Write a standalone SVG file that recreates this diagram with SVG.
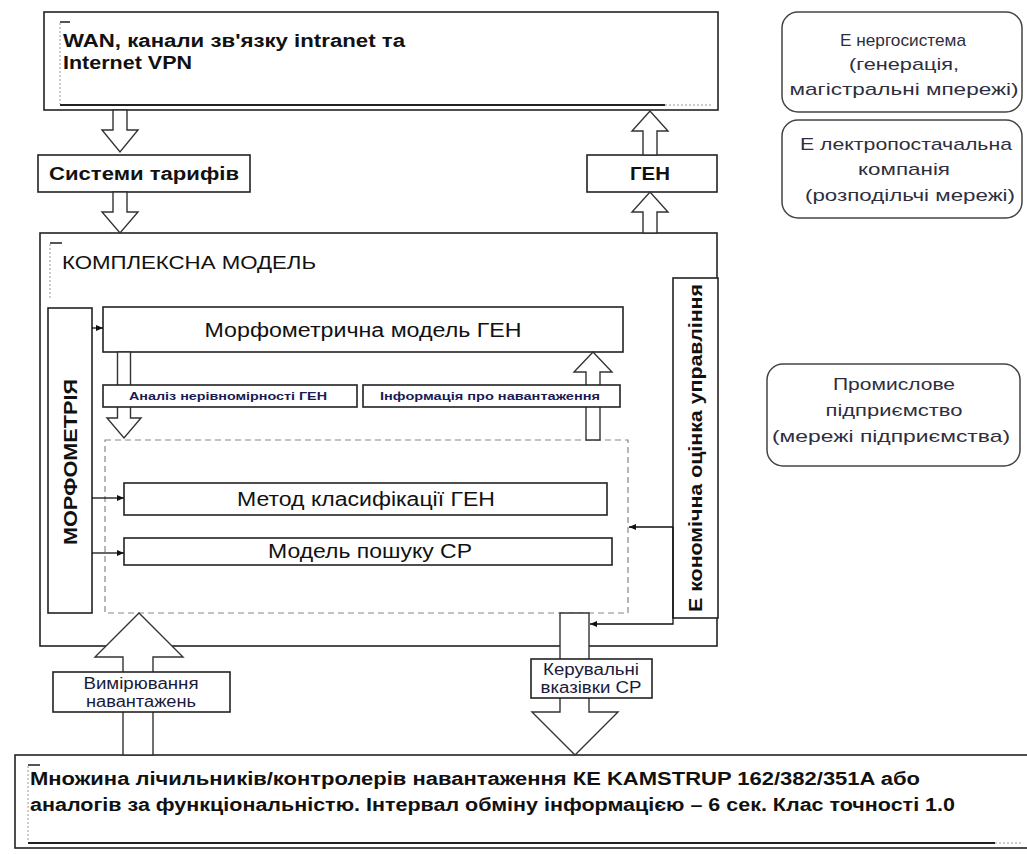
<svg xmlns="http://www.w3.org/2000/svg" width="1027" height="854" viewBox="0 0 1027 854">
<defs>
<marker id="ah" markerWidth="8" markerHeight="8" refX="7" refY="4" orient="auto" markerUnits="userSpaceOnUse">
<path d="M0,1 L7,4 L0,7 Z" fill="#111"/>
</marker>
<style>
.box{fill:#fff;stroke:#222;stroke-width:1.6}
.rbox{fill:#fff;stroke:#444;stroke-width:1.5}
.dash{fill:none;stroke:#888;stroke-width:1.2;stroke-dasharray:6 4}
.arr{fill:#fff;stroke:#333;stroke-width:1.4}
.ln{fill:none;stroke:#111;stroke-width:1.3}
.tick{stroke:#555;stroke-width:2}
.dot{stroke:#999;stroke-width:1;stroke-dasharray:2 2}
.sol{stroke:#222;stroke-width:2}
text{font-family:"Liberation Sans",Arial,sans-serif;fill:#111}
.b{font-weight:bold}
.r{fill:#2e2e3e;font-size:17px}
.s{font-size:10px;font-weight:bold;fill:#1a1a55}
.m{fill:#1a1a3a;font-size:16px}
</style>
</defs>

<g id="wan">
<rect class="box" x="44" y="12" width="674" height="98"/>
<line class="tick" x1="60" y1="22" x2="70" y2="22"/>
<line class="dot" x1="60" y1="23" x2="60" y2="104"/>
<line class="sol" x1="60" y1="105" x2="665" y2="105"/>
<line class="dot" x1="665" y1="105" x2="712" y2="105"/>
<text class="b" x="63" y="47" font-size="18" textLength="342" lengthAdjust="spacingAndGlyphs">WAN, канали зв'язку intranet та</text>
<text class="b" x="63" y="69" font-size="18" textLength="129" lengthAdjust="spacingAndGlyphs">Internet VPN</text>
</g>

<g id="tariffs">
<rect class="box" x="38" y="155" width="212" height="37"/>
<text class="b" x="144" y="180" font-size="18" text-anchor="middle" textLength="190" lengthAdjust="spacingAndGlyphs">Системи тарифів</text>
</g>

<g id="gen">
<rect class="box" x="587" y="155" width="130" height="37"/>
<text class="b" x="650" y="180" font-size="18" text-anchor="middle" textLength="40" lengthAdjust="spacingAndGlyphs">ГЕН</text>
</g>

<g id="energosystem">
<rect class="rbox" x="782" y="12" width="240" height="100" rx="16"/>
<text class="r" x="903" y="46" text-anchor="middle" textLength="126" lengthAdjust="spacingAndGlyphs">Е нергосистема</text>
<text class="r" x="904" y="70" text-anchor="middle" textLength="110" lengthAdjust="spacingAndGlyphs">(генерація,</text>
<text class="r" x="904" y="95" text-anchor="middle" textLength="229" lengthAdjust="spacingAndGlyphs">магістральні мпережі)</text>
</g>

<g id="supply">
<rect class="rbox" x="782" y="120" width="240" height="98" rx="16"/>
<text class="r" x="906" y="150" text-anchor="middle" textLength="212" lengthAdjust="spacingAndGlyphs">Е лектропостачальна</text>
<text class="r" x="904" y="175" text-anchor="middle" textLength="92" lengthAdjust="spacingAndGlyphs">компанія</text>
<text class="r" x="910" y="201" text-anchor="middle" textLength="210" lengthAdjust="spacingAndGlyphs">(розподільчі мережі)</text>
</g>

<g id="industrial">
<rect class="rbox" x="767" y="364" width="253" height="102" rx="16"/>
<text class="r" x="894" y="390" text-anchor="middle" textLength="122" lengthAdjust="spacingAndGlyphs">Промислове</text>
<text class="r" x="894" y="416" text-anchor="middle" textLength="137" lengthAdjust="spacingAndGlyphs">підприємство</text>
<text class="r" x="891" y="442" text-anchor="middle" textLength="238" lengthAdjust="spacingAndGlyphs">(мережі підприємства)</text>
</g>

<g id="complex">
<rect class="box" x="40" y="233" width="677" height="413"/>
<line class="tick" x1="50" y1="243" x2="62" y2="243"/>
<line class="dot" x1="50" y1="244" x2="50" y2="300"/>
<text x="62" y="269" font-size="19" textLength="254" lengthAdjust="spacingAndGlyphs">КОМПЛЕКСНА МОДЕЛЬ</text>
</g>

<g id="dashed-area">
<rect class="dash" x="105" y="440" width="523" height="173"/>
</g>

<g id="morphometry">
<rect class="box" x="48" y="308" width="44" height="305"/>
<text class="b" transform="translate(77,462) rotate(-90)" font-size="18" text-anchor="middle" textLength="166" lengthAdjust="spacingAndGlyphs">МОРФОМЕТРІЯ</text>
</g>

<g id="economic">
<rect class="box" x="673" y="278" width="45" height="340"/>
<text class="b" transform="translate(702,448) rotate(-90)" font-size="18" text-anchor="middle" textLength="328" lengthAdjust="spacingAndGlyphs">Е кономічна оцінка управління</text>
</g>

<g id="morph-model">
<rect class="box" x="103" y="307" width="520" height="45"/>
<text x="363" y="337" font-size="20" text-anchor="middle" textLength="317" lengthAdjust="spacingAndGlyphs">Морфометрична модель ГЕН</text>
</g>

<g id="classification">
<rect class="box" x="124" y="483" width="483" height="32"/>
<text x="366" y="506" font-size="20" text-anchor="middle" textLength="258" lengthAdjust="spacingAndGlyphs">Метод класифікації ГЕН</text>
</g>

<g id="search">
<rect class="box" x="124" y="538" width="488" height="27"/>
<text x="370" y="558" font-size="20" text-anchor="middle" textLength="204" lengthAdjust="spacingAndGlyphs">Модель пошуку СР</text>
</g>

<g id="meters">
<rect class="box" x="15" y="755" width="1020" height="93"/>
<line class="tick" x1="28" y1="765" x2="40" y2="765"/>
<line class="dot" x1="28" y1="766" x2="28" y2="842"/>
<line class="sol" x1="28" y1="843" x2="995" y2="843"/>
<line class="dot" x1="995" y1="843" x2="1022" y2="843"/>
<text class="b" x="30" y="785" font-size="18" textLength="890" lengthAdjust="spacingAndGlyphs">Множина лічильників/контролерів навантаження КЕ KAMSTRUP 162/382/351A або</text>
<text class="b" x="30" y="811" font-size="18" textLength="925" lengthAdjust="spacingAndGlyphs">аналогів за функціональністю. Інтервал обміну інформацією – 6 сек. Клас точності 1.0</text>
</g>

<g id="connectors">
<polygon class="arr" points="113,110 127,110 127,130 138,130 120,152 102,130 113,130"/>
<polygon class="arr" points="113,192 127,192 127,212 138,212 120,233 102,212 113,212"/>
<polygon class="arr" points="643,155 657,155 657,131 668,131 650,111 632,131 643,131"/>
<polygon class="arr" points="643,233 657,233 657,212 668,212 650,192 632,212 643,212"/>
<polygon class="arr" points="117.5,352 130.5,352 130.5,418 141,418 124,438 107,418 117.5,418"/>
<polygon class="arr" points="586,440 600,440 600,372 612,372 593,352 574,372 586,372"/>
<polygon class="arr" points="123,755 153,755 153,657 183,657 139,613 95,657 123,657"/>
<polygon class="arr" points="560,613 589,613 589,712 618,712 575,755 532,712 560,712"/>
<path class="ln" d="M92,328 H103" marker-end="url(#ah)"/>
<path class="ln" d="M92,498 H124" marker-end="url(#ah)"/>
<path class="ln" d="M92,553 H124" marker-end="url(#ah)"/>
<path class="ln" d="M673,527 H629" marker-end="url(#ah)"/>
<path class="ln" d="M673,527 V624 H590" marker-end="url(#ah)"/>
</g>

<g id="analysis">
<rect class="box" x="103" y="385" width="254" height="22"/>
<text class="s" x="228" y="400" text-anchor="middle" textLength="198" lengthAdjust="spacingAndGlyphs">Аналіз нерівномірності ГЕН</text>
</g>

<g id="info">
<rect class="box" x="363" y="385" width="257" height="22"/>
<text class="s" x="490" y="400" text-anchor="middle" textLength="220" lengthAdjust="spacingAndGlyphs">Інформація про навантаження</text>
</g>

<g id="measurement">
<rect class="box" x="53" y="672" width="177" height="40"/>
<text class="m" x="141" y="689" text-anchor="middle" textLength="115" lengthAdjust="spacingAndGlyphs">Вимірювання</text>
<text class="m" x="141" y="707" text-anchor="middle" textLength="110" lengthAdjust="spacingAndGlyphs">навантажень</text>
</g>

<g id="control">
<rect class="box" x="531" y="659" width="121" height="39"/>
<text class="m" x="591" y="675" text-anchor="middle" textLength="96" lengthAdjust="spacingAndGlyphs">Керувальні</text>
<text class="m" x="591" y="693" text-anchor="middle" textLength="101" lengthAdjust="spacingAndGlyphs">вказівки СР</text>
</g>
</svg>
